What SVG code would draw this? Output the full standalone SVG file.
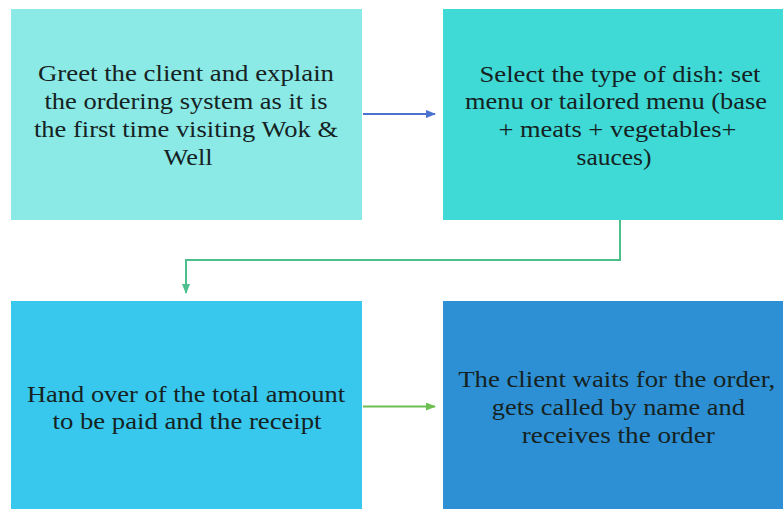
<svg xmlns="http://www.w3.org/2000/svg" width="783" height="509" viewBox="0 0 783 509">
  <defs>
    <marker id="arrowBlue" markerWidth="10" markerHeight="8" refX="9" refY="4" orient="auto" markerUnits="userSpaceOnUse">
      <path d="M0,0 L10,4 L0,8 Z" fill="#4a72d0"/>
    </marker>
    <marker id="arrowTeal" markerWidth="10" markerHeight="8" refX="9" refY="4" orient="auto" markerUnits="userSpaceOnUse">
      <path d="M0,0 L10,4 L0,8 Z" fill="#4cbf8c"/>
    </marker>
    <marker id="arrowGreen" markerWidth="10" markerHeight="8" refX="9" refY="4" orient="auto" markerUnits="userSpaceOnUse">
      <path d="M0,0 L10,4 L0,8 Z" fill="#6dbf52"/>
    </marker>
  </defs>
  <rect width="783" height="509" fill="#ffffff"/>

  <!-- step boxes -->
  <g id="greet">
    <rect x="11" y="9" width="351" height="211" fill="#8be9e6"/>
    <text font-family="Liberation Serif" font-size="24" fill="#152222" text-anchor="middle" x="186" y="81" textLength="296" lengthAdjust="spacingAndGlyphs">Greet the client and explain</text>
    <text font-family="Liberation Serif" font-size="24" fill="#152222" text-anchor="middle" x="186" y="109" textLength="283" lengthAdjust="spacingAndGlyphs">the ordering system as it is</text>
    <text font-family="Liberation Serif" font-size="24" fill="#152222" text-anchor="middle" x="186" y="137" textLength="304" lengthAdjust="spacingAndGlyphs">the first time visiting Wok &amp;</text>
    <text font-family="Liberation Serif" font-size="24" fill="#152222" text-anchor="middle" x="188" y="165" textLength="49" lengthAdjust="spacingAndGlyphs">Well</text>
  </g>

  <g id="select-dish">
    <rect x="443" y="9" width="340" height="211" fill="#3fd9d6"/>
    <text font-family="Liberation Serif" font-size="24" fill="#152222" text-anchor="middle" x="620" y="81.5" textLength="281" lengthAdjust="spacingAndGlyphs">Select the type of dish: set</text>
    <text font-family="Liberation Serif" font-size="24" fill="#152222" text-anchor="middle" x="616" y="109" textLength="302" lengthAdjust="spacingAndGlyphs">menu or tailored menu (base</text>
    <text font-family="Liberation Serif" font-size="24" fill="#152222" text-anchor="middle" x="617.5" y="137" textLength="238" lengthAdjust="spacingAndGlyphs">+ meats + vegetables+</text>
    <text font-family="Liberation Serif" font-size="24" fill="#152222" text-anchor="middle" x="614" y="165" textLength="75" lengthAdjust="spacingAndGlyphs">sauces)</text>
  </g>

  <g id="payment">
    <rect x="11" y="301" width="351" height="208" fill="#38c8ee"/>
    <text font-family="Liberation Serif" font-size="24" fill="#152222" text-anchor="middle" x="186" y="401.5" textLength="318" lengthAdjust="spacingAndGlyphs">Hand over of the total amount</text>
    <text font-family="Liberation Serif" font-size="24" fill="#152222" text-anchor="middle" x="187" y="429" textLength="269" lengthAdjust="spacingAndGlyphs">to be paid and the receipt</text>
  </g>

  <g id="pickup">
    <rect x="443" y="301" width="340" height="208" fill="#2e90d4"/>
    <text font-family="Liberation Serif" font-size="24" fill="#152222" text-anchor="middle" x="616.7" y="386.7" textLength="317" lengthAdjust="spacingAndGlyphs">The client waits for the order,</text>
    <text font-family="Liberation Serif" font-size="24" fill="#152222" text-anchor="middle" x="618.3" y="414.7" textLength="253" lengthAdjust="spacingAndGlyphs">gets called by name and</text>
    <text font-family="Liberation Serif" font-size="24" fill="#152222" text-anchor="middle" x="618.3" y="442.5" textLength="193" lengthAdjust="spacingAndGlyphs">receives the order</text>
  </g>

  <!-- flow arrows -->
  <g id="connectors" fill="none" stroke-width="2">
    <path d="M363,114 L435,114" stroke="#4a72d0" marker-end="url(#arrowBlue)"/>
    <path d="M620,220 L620,260 L186,260 L186,293" stroke="#4cbf8c" marker-end="url(#arrowTeal)"/>
    <path d="M363,406.5 L435,406.5" stroke="#6dbf52" marker-end="url(#arrowGreen)"/>
  </g>
</svg>
